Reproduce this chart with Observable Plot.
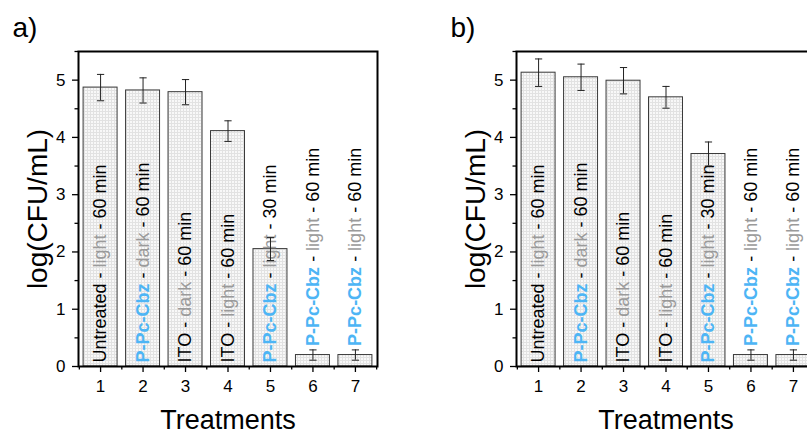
<!DOCTYPE html>
<html>
<head>
<meta charset="utf-8">
<script src="https://cdn.jsdelivr.net/npm/d3@7"></script>
<script src="https://cdn.jsdelivr.net/npm/@observablehq/plot@0.6"></script>
<style>
  html, body { margin: 0; padding: 0; background: #fff; overflow: hidden; }
  #wrap { position: relative; width: 807px; height: 435px; overflow: hidden; }
  #wrap > svg.panel { position: absolute; top: 0; }
</style>
</head>
<body>
<svg width="0" height="0" style="position:absolute">
  <defs>
    <pattern id="grid" width="3" height="3" patternUnits="userSpaceOnUse">
      <rect width="3" height="3" fill="#f8f8f8"></rect>
      <path d="M0 0.5H3M0.5 0V3" stroke="#e2e2e2" stroke-width="1"></path>
    </pattern>
  </defs>
</svg>
<div id="wrap"></div>
<script>
// ---- data ----
const treatments = [1, 2, 3, 4, 5, 6, 7];
const agents = ["Untreated", "P-Pc-Cbz", "ITO", "ITO", "P-Pc-Cbz", "P-Pc-Cbz", "P-Pc-Cbz"];
const conditions = ["light", "dark", "dark", "light", "light", "light", "light"];
const durations = ["60 min", "60 min", "60 min", "60 min", "30 min", "60 min", "60 min"];
const valuesA = [4.87, 4.82, 4.79, 4.11, 2.05, 0.20, 0.20];
const errorsA = [0.23, 0.22, 0.22, 0.18, 0.20, 0.09, 0.09];
const valuesB = [5.13, 5.05, 4.99, 4.70, 3.71, 0.20, 0.20];
const errorsB = [0.24, 0.23, 0.23, 0.19, 0.21, 0.09, 0.09];
const yTicks = [0, 1, 2, 3, 4, 5];
const yMinorTicks = [0.5, 1.5, 2.5, 3.5, 4.5, 5.5];
const xMinorTicks = [0.5, 1.5, 2.5, 3.5, 4.5, 5.5, 6.5, 7.5];
const panelTags = ["a)", "b)"];
const yTitle = "log(CFU/mL)";
const xTitle = "Treatments";

const FONT = "'Liberation Sans', Arial, Helvetica, sans-serif";
const BLUE = "#4db5f5";
const GRAY = "#9a9a9a";

function makePanel(values, errors, tag, width, marginLeft, marginRight) {
  const data = treatments.map((t, i) => ({
    t, v: values[i], e: errors[i],
    agent: agents[i], cond: conditions[i], dur: durations[i],
    label: `${agents[i]} - ${conditions[i]} - ${durations[i]}`
  }));
  const svg = Plot.plot({
    width, height: 435,
    marginLeft, marginRight, marginTop: 51, marginBottom: 69,
    style: { fontFamily: FONT, fontSize: "16px", color: "black", background: "transparent", overflow: "visible" },
    x: { domain: [0.48, 7.52], label: null },
    y: { domain: [0, 5.5], label: null },
    marks: [
      Plot.rectY(data, { x1: d => d.t - 0.4, x2: d => d.t + 0.4, y1: 0, y2: "v",
        fill: "url(#grid)", stroke: "#3a3a3a", strokeWidth: 1 }),
      Plot.text(data, { x: "t", y: d => (d.v < 1 ? d.v + d.e : 0), text: "label", rotate: -90,
        textAnchor: "start", lineAnchor: "middle", dy: -4, fontSize: 18 }),
      Plot.ruleX(data, { x: "t", y1: d => d.v - d.e, y2: d => d.v + d.e, stroke: "#222", strokeWidth: 1 }),
      Plot.link(data, { x1: d => d.t - 0.085, x2: d => d.t + 0.085, y1: d => d.v + d.e, y2: d => d.v + d.e, stroke: "#222", strokeWidth: 1 }),
      Plot.link(data, { x1: d => d.t - 0.085, x2: d => d.t + 0.085, y1: d => d.v - d.e, y2: d => d.v - d.e, stroke: "#222", strokeWidth: 1 }),
      Plot.axisX({ ticks: treatments, tickSize: 6, tickPadding: 7, tickFormat: d => String(d), fontSize: 17, label: null, strokeWidth: 1.3 }),
      Plot.axisX({ ticks: xMinorTicks, tickSize: 3.5, tickFormat: () => "", label: null, strokeWidth: 1.3 }),
      Plot.axisY({ ticks: yTicks, tickSize: 6, tickPadding: 7, tickFormat: d => String(d), fontSize: 17, label: null, strokeWidth: 1.3 }),
      Plot.axisY({ ticks: yMinorTicks, tickSize: 3.5, tickFormat: () => "", label: null, strokeWidth: 1.3 }),
      Plot.frame({ stroke: "black", strokeWidth: 2 }),
      Plot.text([tag], { frameAnchor: "top-left", textAnchor: "start", lineAnchor: "middle", dx: -66, dy: -23, fontSize: 28 }),
      Plot.text([yTitle], { frameAnchor: "left", rotate: -90, textAnchor: "middle", lineAnchor: "middle", dx: -40, fontSize: 28 }),
      Plot.text([xTitle], { frameAnchor: "bottom", textAnchor: "middle", lineAnchor: "middle", dy: 54, fontSize: 27 })
    ]
  });
  // colour the segments of the in-bar labels
  const NS = "http://www.w3.org/2000/svg";
  svg.querySelectorAll("text").forEach(el => {
    const d = data.find(d => d.label === el.textContent);
    if (!d) return;
    el.textContent = "";
    el.setAttribute("style", "white-space: pre");
    const segs = [
      [d.agent, d.agent === "P-Pc-Cbz" ? BLUE : "black", d.agent === "P-Pc-Cbz" ? "bold" : "normal"],
      [" - ", "black", "normal"],
      [d.cond, GRAY, "normal"],
      [" - " + d.dur, "black", "normal"]
    ];
    for (const [txt, fill, weight] of segs) {
      const ts = document.createElementNS(NS, "tspan");
      ts.textContent = txt;
      ts.setAttribute("fill", fill);
      ts.setAttribute("font-weight", weight);
      el.appendChild(ts);
    }
  });
  svg.classList.add("panel");
  return svg;
}

const wrap = document.getElementById("wrap");
const pa = makePanel(valuesA, errorsA, panelTags[0], 400, 78, 23);
pa.style.left = "0px";
const pb = makePanel(valuesB, errorsB, panelTags[1], 437, 116, 22);
pb.style.left = "400px";
wrap.appendChild(pa);
wrap.appendChild(pb);
</script>
</body>
</html>
